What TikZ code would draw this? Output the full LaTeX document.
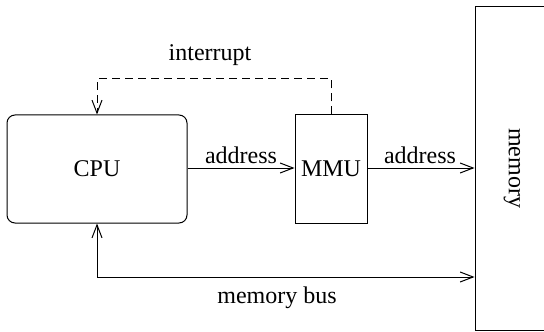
\documentclass[tikz,border=0pt]{standalone}
\usepackage{fontspec}
\setmainfont{Liberation Serif}
\usetikzlibrary{arrows.meta}
\begin{document}
\begin{tikzpicture}[x=0.5pt,y=-0.5pt,
  every node/.style={font=\fontsize{12}{14}\selectfont},
  line/.style={line width=0.5pt},
  tip/.style={-{Straight Barb[length=6.5pt,width=5pt,line width=0.5pt]}},
  box/.style={draw,line width=0.5pt,inner sep=0pt}]
\useasboundingbox (0,0) rectangle (544,331);
\begin{scope}
\clip (0,0) rectangle (544,331);
\node[box,rounded corners=4pt,minimum width=90pt,minimum height=54pt] (cpu) at (97,169) {CPU};
\node[box,minimum width=36pt,minimum height=54pt] (mmu) at (331,169) {MMU};
\node[box,minimum width=42.5pt,minimum height=161.5pt] (mem) at (517.5,168.5) {};
\end{scope}
\node[rotate=-90] (memlbl) at (512,168) {memory};
\coordinate (itop) at (0,79);
\coordinate (bus) at (97,277);
\draw[line,tip] (cpu.east |- 0,168) -- (mmu.west |- 0,168);
\draw[line,tip] (mmu.east |- 0,168) -- (mem.west |- 0,168);
\draw[line,tip,dash pattern=on 4pt off 2.5pt] (mmu.north) -- (mmu.north |- itop) -| (cpu.north);
\draw[line,{Straight Barb[length=6.5pt,width=5pt,line width=0.5pt]}-{Straight Barb[length=6.5pt,width=5pt,line width=0.5pt]}] (cpu.south) -- (bus) -- (mem.west |- bus);
\node (lint) at (210,55) {interrupt};
\node (la1) at (241,155) {address};
\node (la2) at (420,155) {address};
\node (lbus) at (277,298) {memory bus};
\end{tikzpicture}
\end{document}
